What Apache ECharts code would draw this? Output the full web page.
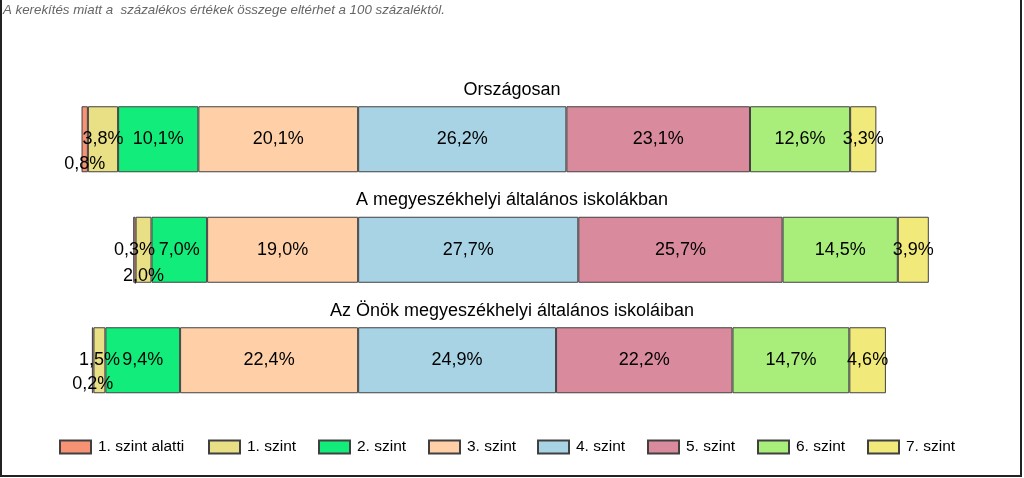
<!DOCTYPE html>
<html>
<head>
<meta charset="utf-8">
<script src="https://cdn.jsdelivr.net/npm/echarts@6/dist/echarts.min.js"></script>
<style>
html,body{margin:0;padding:0;background:#fff;}
#chart{width:1024px;height:478px;}
</style>
</head>
<body>
<div id="chart"></div>
<script>
// ---- data ----
const note = 'A kerekítés miatt a  százalékos értékek összege eltérhet a 100 százaléktól.';
const categories = ['Országosan', 'A megyeszékhelyi általános iskolákban', 'Az Önök megyeszékhelyi általános iskoláiban'];
const levelNames = ['1. szint alatti', '1. szint', '2. szint', '3. szint', '4. szint', '5. szint', '6. szint', '7. szint'];
const below1 = [0.8, 0.3, 0.2];
const level1 = [3.8, 2.0, 1.5];
const level2 = [10.1, 7.0, 9.4];
const level3 = [20.1, 19.0, 22.4];
const level4 = [26.2, 27.7, 24.9];
const level5 = [23.1, 25.7, 22.2];
const level6 = [12.6, 14.5, 14.7];
const level7 = [3.3, 3.9, 4.6];

// ---- styling ----
const colors = ['#F79274', '#E9DF85', '#12EC7A', '#FFD0A8', '#A8D3E5', '#D98A9C', '#A9EE7A', '#F1E97A'];
const FONT = "'Liberation Sans', Arial, sans-serif";
// label shifts for tiny segments: key "levelIndex-categoryIndex" -> [dx, dy]
const labelShift = { '0-0': [0, 25], '1-1': [0, 26], '0-2': [0, 24] };
const legendLefts = [59, 208, 318, 428, 537, 647, 757, 867];

const allValues = [below1, level1, level2, level3, level4, level5, level6, level7];
// levels below 4 are drawn to the left of zero (3 nearest to zero)
const stackOrder = [3, 2, 1, 0, 4, 5, 6, 7];

const series = stackOrder.map(li => {
  const neg = li < 4;
  return {
    name: levelNames[li],
    type: 'bar',
    stack: 'total',
    barWidth: 66,
    itemStyle: { color: colors[li], borderColor: '#404040', borderWidth: 1 },
    label: {
      show: true,
      position: 'inside',
      color: '#000',
      fontSize: 18,
      fontFamily: FONT,
      formatter: p => Math.abs(p.value).toFixed(1).replace('.', ',') + '%'
    },
    data: allValues[li].map((v, ci) => {
      const item = { value: neg ? -v : v };
      const s = labelShift[li + '-' + ci];
      if (s) item.label = { offset: s };
      return item;
    })
  };
});

const titleTops = [81, 191, 302];

const legends = levelNames.map((n, i) => ({
  data: [n],
  left: legendLefts[i],
  top: 439,
  padding: 0,
  itemWidth: 31,
  itemHeight: 13,
  icon: 'rect',
  selectedMode: false,
  textStyle: { fontSize: 15.5, color: '#000', fontFamily: FONT, padding: [0, 0, 0, 2] }
}));

const chart = echarts.init(document.getElementById('chart'), null, { renderer: 'canvas' });
chart.setOption({
  animation: false,
  backgroundColor: '#fff',
  title: categories.map((c, i) => ({
    text: c,
    left: 'center',
    top: titleTops[i],
    padding: 0,
    textStyle: { fontSize: 18, fontWeight: 'normal', color: '#000', fontFamily: FONT }
  })),
  graphic: [
    {
      type: 'text', left: 3, top: 4,
      style: { text: note, font: "italic 13.3px 'Liberation Sans', Arial, sans-serif", fill: '#666' }
    },
    {
      type: 'polyline',
      shape: { points: [[1, 0], [1, 476], [1021, 476], [1021, 0]] },
      style: { stroke: '#222', lineWidth: 2, fill: null }
    }
  ],
  legend: legends,
  grid: { left: 72, right: 30, top: 84, height: 331.5 },
  xAxis: {
    type: 'value', min: -36, max: 80, show: false
  },
  yAxis: {
    type: 'category', data: categories, inverse: true, show: false
  },
  series: series
});
</script>
</body>
</html>
